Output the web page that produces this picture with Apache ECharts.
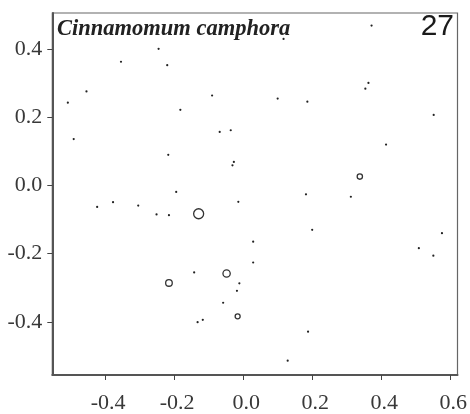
<!DOCTYPE html>
<html>
<head>
<meta charset="utf-8">
<script src="https://cdn.jsdelivr.net/npm/echarts@6/dist/echarts.min.js"></script>
<style>
html,body{margin:0;padding:0;background:#fff;}
#chart{width:470px;height:414px;}
</style>
</head>
<body>
<div id="chart"></div>
<script>
// Tick labels
const xTicks = [-0.4, -0.2, 0.0, 0.2, 0.4, 0.6];
const yTicks = [-0.4, -0.2, 0.0, 0.2, 0.4];
const xRange = [-0.553, 0.621];
const yRange = [-0.556, 0.506];

const speciesName = 'Cinnamomum camphora';
const panelNumber = '27';

// Small points (x, y)
const pointsX = [-0.245, -0.354, -0.220, -0.454, -0.508, -0.182, -0.491, -0.217, -0.194, 0.117,
                 -0.090, 0.100, 0.186, -0.068, -0.036, -0.027, -0.031, 0.182, 0.372, 0.363,
                 0.354, 0.552, 0.414, -0.423, -0.377, -0.304, -0.251, -0.215, -0.014, 0.200,
                 0.029, 0.029, -0.142, -0.011, -0.018, -0.058, -0.132, -0.117, 0.188, 0.129,
                 0.312, 0.576, 0.509, 0.551];
const pointsY = [0.401, 0.363, 0.353, 0.276, 0.243, 0.222, 0.136, 0.090, -0.019, 0.430,
                 0.264, 0.255, 0.246, 0.157, 0.162, 0.069, 0.059, -0.026, 0.469, 0.301,
                 0.284, 0.207, 0.120, -0.063, -0.049, -0.059, -0.085, -0.087, -0.048, -0.130,
                 -0.165, -0.226, -0.255, -0.287, -0.309, -0.344, -0.401, -0.394, -0.429, -0.514,
                 -0.033, -0.140, -0.184, -0.206];

// Open circles (x, y, abundance)
const circlesX = [0.338, -0.215, -0.129, -0.048, -0.016];
const circlesY = [0.026, -0.286, -0.083, -0.258, -0.384];
const circlesW = [4.5, 7, 16, 8.5, 4];

const pointData = pointsX.map((x, i) => [x, pointsY[i]]);
const circleData = circlesX.map((x, i) => [x, circlesY[i], circlesW[i]]);

const chart = echarts.init(document.getElementById('chart'), null, {renderer: 'canvas'});
const labelFont = {fontFamily: '"Liberation Serif", "DejaVu Serif", serif', fontSize: 22, color: '#383838'};

chart.setOption({
  animation: false,
  backgroundColor: '#fff',
  title: [
    {text: speciesName, left: 57, top: 18, padding: 0,
     textStyle: {fontFamily: '"Liberation Serif", serif', fontStyle: 'italic', fontWeight: 'bold', fontSize: 22.5, color: '#222'}},
    {text: panelNumber, right: 16, top: 12, padding: 0,
     textStyle: {fontFamily: '"Liberation Sans", Arial, sans-serif', fontWeight: 'normal', fontSize: 30, color: '#1a1a1a'}}
  ],
  grid: {left: 52.3, right: 12.3, top: 13, bottom: 36.7, show: true, borderColor: '#666', borderWidth: 1.2, containLabel: false},
  xAxis: {
    type: 'value', min: xRange[0], max: xRange[1],
    splitLine: {show: false},
    axisLine: {show: true, onZero: false, lineStyle: {color: '#555', width: 2}},
    axisTick: {show: true, length: 5, inside: false, customValues: xTicks, lineStyle: {color: '#444', width: 1}},
    axisLabel: Object.assign({margin: 17, customValues: xTicks, formatter: v => v.toFixed(1), padding: [0, 0, 0, 6]}, labelFont)
  },
  yAxis: {
    type: 'value', min: yRange[0], max: yRange[1],
    splitLine: {show: false},
    axisLine: {show: true, onZero: false, lineStyle: {color: '#555', width: 2}},
    axisTick: {show: true, length: 5, inside: false, customValues: yTicks, lineStyle: {color: '#444', width: 1}},
    axisLabel: Object.assign({margin: 10, customValues: yTicks, formatter: v => v.toFixed(1)}, labelFont)
  },
  series: [
    {type: 'scatter', data: pointData, symbol: 'circle', symbolSize: 2.2,
     itemStyle: {color: '#222', opacity: 1}},
    {type: 'scatter', data: circleData, symbol: 'circle',
     symbolSize: d => 2.5 * Math.sqrt(d[2]),
     itemStyle: {color: 'rgba(255,255,255,0)', borderColor: '#333', borderWidth: 1.3, opacity: 1}}
  ]
});
</script>
</body>
</html>
